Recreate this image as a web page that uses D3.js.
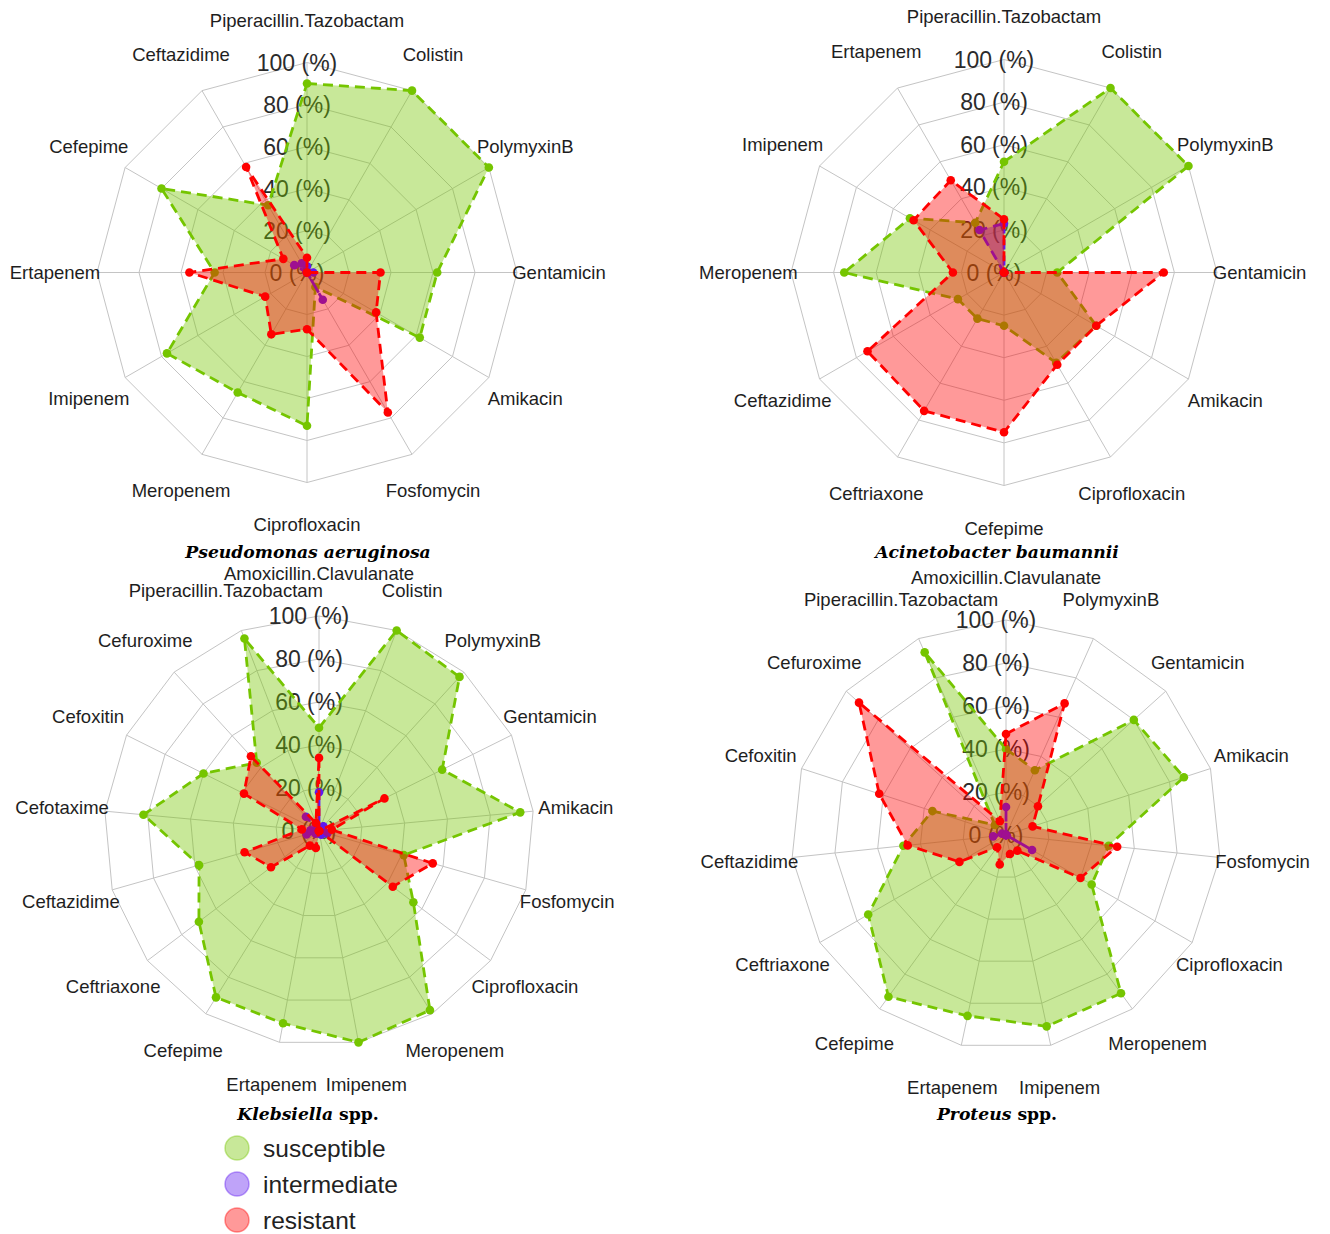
<!DOCTYPE html>
<html><head><meta charset="utf-8">
<script src="https://cdn.jsdelivr.net/npm/d3@7"></script>
<style>body{margin:0;background:#fff} svg{display:block}</style>
</head><body><svg id="c" width="1330" height="1234"></svg>
<script>
// ---------------- DATA ----------------
const seriesNames = ["susceptible", "intermediate", "resistant"];
const levelLabels = ["0 (%)", "20 (%)", "40 (%)", "60 (%)", "80 (%)", "100 (%)"];
const levelValues = [0, 20, 40, 60, 80, 100];

const paeCategories = ["Piperacillin.Tazobactam","Colistin","PolymyxinB","Gentamicin","Amikacin","Fosfomycin","Ciprofloxacin","Meropenem","Imipenem","Ertapenem","Cefepime","Ceftazidime"];
const paeSusceptible  = [90,100,100,62,62, 8,73,66,77,44,80,37];
const paeIntermediate = [ 3,  0,  0, 3, 0,15, 0, 0, 0, 0, 7, 5];
const paeResistant    = [ 7,  0,  0,35,38,77,27,34,23,56,13,58];

const abaCategories = ["Piperacillin.Tazobactam","Colistin","PolymyxinB","Gentamicin","Amikacin","Ciprofloxacin","Cefepime","Ceftriaxone","Ceftazidime","Meropenem","Imipenem","Ertapenem"];
const abaSusceptible  = [52,100,100,25,50,49,25,25,25,75,51,27];
const abaIntermediate = [23,  0,  0, 0, 0, 0, 0, 0, 0, 0, 0,23];
const abaResistant    = [25,  0,  0,75,50,50,75,75,74,24,49,50];

const kpnCategories = ["Amoxicillin.Clavulanate","Colistin","PolymyxinB","Gentamicin","Amikacin","Fosfomycin","Ciprofloxacin","Meropenem","Imipenem","Ertapenem","Cefepime","Ceftriaxone","Ceftazidime","Cefotaxime","Cefoxitin","Cefuroxime","Piperacillin.Tazobactam"];
const kpnSusceptible  = [48,100,97,64,94,41,55,98,100,91,91,70,58,82,60,43,96];
const kpnIntermediate = [18,  0, 3, 2, 0, 4, 2, 2,  0, 1, 1, 2, 6, 4, 1, 9, 0];
const kpnResistant    = [34,  0, 0,34, 6,55,43, 0,  0, 8, 8,28,36, 8,39,47, 4];

const prCategories = ["Amoxicillin.Clavulanate","PolymyxinB","Gentamicin","Amikacin","Fosfomycin","Ciprofloxacin","Meropenem","Imipenem","Ertapenem","Cefepime","Ceftriaxone","Ceftazidime","Cefoxitin","Cefuroxime","Piperacillin.Tazobactam"];
const prSusceptible  = [40,33,80,87,48,46,91,91,86,93,74,48,36, 7,93];
const prIntermediate = [13, 0, 0, 0, 0,14, 0, 0, 0, 0, 0, 6, 2, 0, 0];
const prResistant    = [47,67,20,13,52,40, 9, 9,14, 7,25,46,62,92, 7];

// ---------------- STYLE / LAYOUT ----------------
const seriesColors = ["rgb(117,197,0)", "rgb(95,25,240)", "rgb(255,0,0)"];
const fillAlpha = 0.4;
const gridColor = "#c4c4c4";

const panels = [
  {cats: paeCategories, vals: [paeSusceptible, paeIntermediate, paeResistant], cx: 307, cy: 272.5, R: 210,
   title: [["Pseudomonas aeruginosa", true]], tx: 308, ty: 558},
  {cats: abaCategories, vals: [abaSusceptible, abaIntermediate, abaResistant], cx: 1004, cy: 272.5, R: 213,
   title: [["Acinetobacter baumannii", true]], tx: 997, ty: 558},
  {cats: kpnCategories, vals: [kpnSusceptible, kpnIntermediate, kpnResistant], cx: 319, cy: 831, R: 215,
   title: [["Klebsiella", true], [" spp.", false]], tx: 308, ty: 1120},
  {cats: prCategories, vals: [prSusceptible, prIntermediate, prResistant], cx: 1006, cy: 835, R: 215,
   title: [["Proteus", true], [" spp.", false]], tx: 997, ty: 1120}
];

const svg = d3.select("#c");

function withAlpha(c, a) { const k = d3.color(c); k.opacity = a; return k.toString(); }

panels.forEach(p => {
  const g = svg.append("g").attr("transform", `translate(${p.cx},${p.cy})`);
  const n = p.cats.length;
  const r = d3.scaleLinear().domain([0, 100]).range([0, p.R]);
  const ang = d3.scaleLinear().domain([0, n]).range([0, 2 * Math.PI]);
  const idx = d3.range(n);
  const px = (i, v) => r(v) * Math.sin(ang(i));
  const py = (i, v) => -r(v) * Math.cos(ang(i));

  // grid rings
  const ring = d3.lineRadial().angle(i => ang(i)).curve(d3.curveLinearClosed);
  levelValues.slice(1).forEach(lv => {
    g.append("path").attr("d", ring.radius(() => r(lv))(idx))
      .attr("fill", "none").attr("stroke", gridColor).attr("stroke-width", 1);
  });
  // spokes
  g.selectAll("line.spoke").data(idx).enter().append("line")
    .attr("x1", 0).attr("y1", 0)
    .attr("x2", i => px(i, 100)).attr("y2", i => py(i, 100))
    .attr("stroke", gridColor).attr("stroke-width", 1);
  // level labels
  g.selectAll("text.lvl").data(levelValues).enter().append("text")
    .attr("x", -10).attr("y", v => -r(v))
    .attr("text-anchor", "middle").attr("dominant-baseline", "central")
    .attr("font-family", "Liberation Sans, Arial, sans-serif").attr("font-size", 23)
    .attr("fill", "#2b2b2b")
    .text((v, i) => levelLabels[i]);
  // category labels
  g.selectAll("text.cat").data(idx).enter().append("text")
    .attr("x", i => px(i, 120)).attr("y", i => py(i, 120))
    .attr("text-anchor", "middle").attr("dominant-baseline", "central")
    .attr("font-family", "Liberation Sans, Arial, sans-serif").attr("font-size", 18.5)
    .attr("fill", "#1e1e1e")
    .text(i => p.cats[i]);

  // series
  p.vals.forEach((vals, s) => {
    const col = seriesColors[s];
    const line = d3.lineRadial().angle((d, i) => ang(i)).radius(d => r(d)).curve(d3.curveLinearClosed);
    g.append("path").attr("d", line(vals))
      .attr("fill", withAlpha(col, fillAlpha))
      .attr("stroke", col).attr("stroke-width", 2.8)
      .attr("stroke-dasharray", "10,6").attr("stroke-linejoin", "round");
    g.selectAll(null).data(vals).enter().append("circle")
      .attr("cx", (d, i) => px(i, d)).attr("cy", (d, i) => py(i, d))
      .attr("r", 4.3).attr("fill", col);
  });

  // title
  const t = svg.append("text").attr("x", p.tx).attr("y", p.ty)
    .attr("text-anchor", "middle").attr("font-family", "DejaVu Serif, serif")
    .attr("font-weight", "bold").attr("font-size", 17.2).attr("fill", "#000");
  p.title.forEach(([txt, it]) => t.append("tspan").attr("font-style", it ? "italic" : "normal").text(txt));
});

// legend
const leg = svg.append("g");
seriesNames.forEach((nm, s) => {
  const y = 1148 + s * 36;
  leg.append("circle").attr("cx", 237).attr("cy", y).attr("r", 12)
    .attr("fill", withAlpha(seriesColors[s], fillAlpha))
    .attr("stroke", withAlpha(seriesColors[s], fillAlpha)).attr("stroke-width", 1.5);
  leg.append("text").attr("x", 263).attr("y", y).attr("dominant-baseline", "central")
    .attr("font-family", "Liberation Sans, Arial, sans-serif").attr("font-size", 24.5)
    .attr("fill", "#222").text(nm);
});
</script></body></html>
